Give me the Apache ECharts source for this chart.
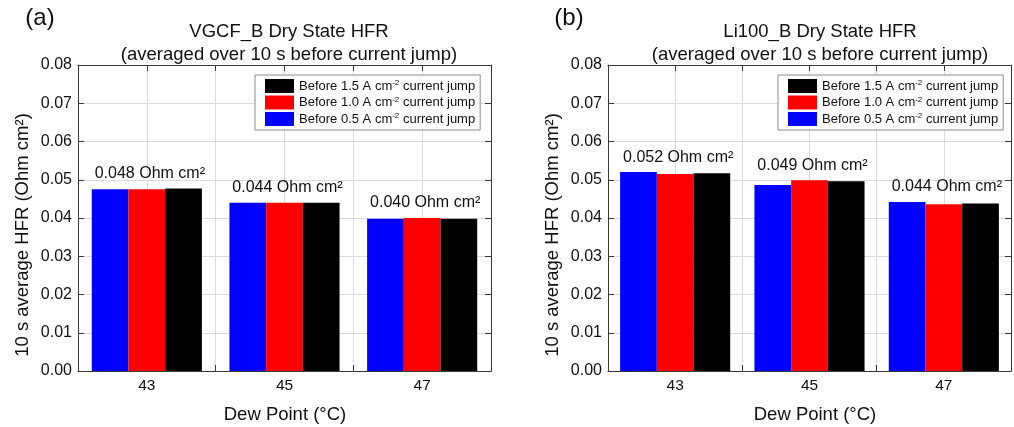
<!DOCTYPE html>
<html>
<head>
<meta charset="utf-8">
<script src="https://cdn.jsdelivr.net/npm/echarts@6/dist/echarts.min.js"></script>
<style>
html, body { margin: 0; padding: 0; background: #fff; }
#chart { width: 1014px; height: 427px; }
</style>
</head>
<body>
<div id="chart"></div>
<script>
// dew point categories (°C)
var dewPoints = ['43', '45', '47']
var seriesNames = [
  'Before 0.5 A cm-2 current jump',
  'Before 1.0 A cm-2 current jump',
  'Before 1.5 A cm-2 current jump'
]
// (a) VGCF_B, Ohm cm2
var vgcf05 = [0.0475, 0.0440, 0.0398]
var vgcf10 = [0.0475, 0.0440, 0.0400]
var vgcf15 = [0.0477, 0.0440, 0.0398]
var vgcfNotes = ['0.048', '0.044', '0.040']
// (b) Li100_B
var li05 = [0.0520, 0.0486, 0.0442]
var li10 = [0.0515, 0.0499, 0.0436]
var li15 = [0.0517, 0.0496, 0.0438]
var liNotes = ['0.052', '0.049', '0.044']

var FONT = 'Liberation Sans, Arial, sans-serif'
var TXT = '#111'
var AX = '#3a3a3a'
var GRIDC = '#dcdcdc'
var barColors = ['#0000ff', '#ff0000', '#000000']

var chart = echarts.init(document.getElementById('chart'))

var grids = [
  { left: 78, top: 65, width: 413, height: 306 },
  { left: 608, top: 65, width: 412, height: 306 }
]

var xAxes = []
var yAxes = []
var series = []

function addPanel(g, groups, notes) {
  xAxes.push({ type: 'category', gridIndex: g, data: dewPoints, show: false })
  xAxes.push({
    type: 'value', gridIndex: g, position: 'bottom', min: 42, max: 48, interval: 1,
    axisLine: { lineStyle: { color: AX } },
    axisTick: { show: true, inside: true, length: 6, lineStyle: { color: AX } },
    axisLabel: {
      formatter: function (v) { return dewPoints.indexOf(String(v)) >= 0 ? String(v) : '' },
      margin: 7, fontSize: 15.5, color: TXT, fontFamily: FONT
    },
    splitLine: { show: true, lineStyle: { color: GRIDC } }
  })
  xAxes.push({
    type: 'value', gridIndex: g, position: 'top', min: 42, max: 48, interval: 1,
    axisLine: { lineStyle: { color: AX } },
    axisTick: { show: true, inside: true, length: 6, lineStyle: { color: AX } },
    axisLabel: { show: false },
    splitLine: { show: false }
  })
  yAxes.push({
    type: 'value', gridIndex: g, position: 'left', min: 0, max: 0.08, interval: 0.01,
    axisLine: { show: true, lineStyle: { color: AX } },
    axisTick: { show: true, inside: true, length: 6, lineStyle: { color: AX } },
    axisLabel: {
      formatter: function (v) { return v.toFixed(2) },
      margin: 6, fontSize: 16, color: TXT, fontFamily: FONT
    },
    splitLine: { show: true, lineStyle: { color: GRIDC } }
  })
  yAxes.push({
    type: 'value', gridIndex: g, position: 'right', min: 0, max: 0.08, interval: 0.01,
    axisLine: { show: true, lineStyle: { color: AX } },
    axisTick: { show: true, inside: true, length: 6, lineStyle: { color: AX } },
    axisLabel: { show: false },
    splitLine: { show: false }
  })
  for (var s = 0; s < 3; s++) {
    series.push({
      name: seriesNames[s],
      type: 'bar',
      xAxisIndex: g * 3,
      yAxisIndex: g * 2,
      data: groups[s],
      barWidth: 36.7,
      barGap: '0%',
      itemStyle: { color: barColors[s] }
    })
  }
  var tops = dewPoints.map(function (d, i) {
    return Math.max(groups[0][i], groups[1][i], groups[2][i])
  })
  series.push({
    type: 'scatter',
    xAxisIndex: g * 3,
    yAxisIndex: g * 2,
    symbolSize: 0,
    itemStyle: { opacity: 1 },
    data: tops,
    label: {
      show: true, position: 'top', distance: 7, offset: [3, 0],
      fontSize: 16, color: TXT, fontFamily: FONT,
      formatter: function (p) { return notes[p.dataIndex] + ' Ohm cm²' }
    }
  })
}

addPanel(0, [vgcf05, vgcf10, vgcf15], vgcfNotes)
addPanel(1, [li05, li10, li15], liNotes)

function legendAt(left) {
  return {
    left: left, top: 75, orient: 'vertical',
    data: [seriesNames[2], seriesNames[1], seriesNames[0]],
    icon: 'rect', itemWidth: 29, itemHeight: 14, itemGap: 2.5,
    padding: [4, 5, 4, 10],
    backgroundColor: '#fff', borderColor: '#8c8c8c', borderWidth: 1,
    selectedMode: false,
    formatter: function (name) { return name.replace(' cm-2', ' cm{s|-2}') },
    textStyle: {
      fontSize: 13, color: TXT, fontFamily: FONT, lineHeight: 14,
      rich: { s: { fontSize: 8, lineHeight: 14, verticalAlign: 'top', color: TXT, fontFamily: FONT } }
    }
  }
}

function txt(text, x, y, size, rot) {
  return {
    type: 'text', x: x, y: y, rotation: rot || 0,
    style: { text: text, fontSize: size, fontFamily: FONT, fill: TXT, align: 'center', verticalAlign: 'middle' }
  }
}

chart.setOption({
  animation: false,
  backgroundColor: '#fff',
  grid: grids,
  xAxis: xAxes,
  yAxis: yAxes,
  legend: [legendAt(255), legendAt(778)],
  series: series,
  graphic: [
    txt('(a)', 40, 18, 24),
    txt('(b)', 569, 18, 24),
    txt('VGCF_B Dry State HFR', 289, 32, 18.5),
    txt('(averaged over 10 s before current jump)', 289, 55, 18.5),
    txt('Li100_B Dry State HFR', 820, 32, 18.5),
    txt('(averaged over 10 s before current jump)', 820, 55, 18.5),
    txt('10 s average HFR (Ohm cm²)', 23, 235, 18.5, Math.PI / 2),
    txt('10 s average HFR (Ohm cm²)', 553, 235, 18.5, Math.PI / 2),
    txt('Dew Point (°C)', 285, 415, 18.5),
    txt('Dew Point (°C)', 815, 415, 18.5)
  ]
})
</script>
</body>
</html>
